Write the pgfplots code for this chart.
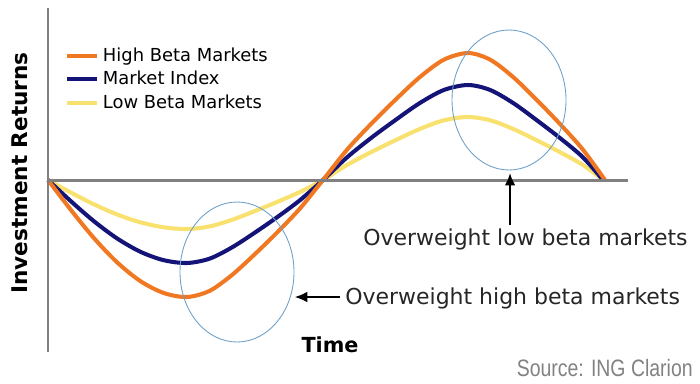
\documentclass[border=0pt]{standalone}
\usepackage{pgfplots}
\pgfplotsset{compat=1.18}
\usepackage{fontspec}
\setmainfont{DejaVu Sans}
\newfontfamily\narrowfont[FakeStretch=0.82]{Liberation Sans}
\usetikzlibrary{arrows.meta}
\definecolor{hiorange}{RGB}{240,120,35}
\definecolor{navyidx}{RGB}{20,20,120}
\definecolor{lowyellow}{RGB}{248,225,110}
\definecolor{ellblue}{RGB}{110,160,200}
\definecolor{axgray}{RGB}{128,128,128}
\definecolor{srcgray}{RGB}{130,130,130}
\begin{document}
\begin{tikzpicture}
\begin{axis}[
  scale only axis,
  width=14cm, height=7.66cm,
  xmin=0, xmax=700, ymin=-203, ymax=180,
  axis lines=none,
  clip=false,
  reverse legend,
  legend style={at={(axis cs:65,136)}, anchor=north west, draw=none, fill=none,
    font=\fontsize{10.2}{11.3}\selectfont, inner sep=0pt, row sep=0pt,
    /tikz/every even column/.append style={column sep=0pt}},
  legend cell align=left,
  legend image code/.code={\draw[#1, line width=2.3pt] (0cm,0cm) -- (0.6cm,0cm);},
]
\addplot[lowyellow, line width=2.3pt, smooth] coordinates {
(48,0) (71.2,-12.7) (94.3,-24.5) (117.5,-34.6) (140.7,-42.4) (163.8,-47.3) (187,-49)
(209.7,-46.4) (232.3,-39.7) (255,-31.0) (277.7,-21.7) (300.3,-11.8) (323,0)
(347.2,15.1) (371.3,28.0) (395.5,39.8) (419.7,51.0) (443.8,59.7) (468,63)
(490.2,59.7) (513.3,51.0) (536.5,39.8) (559.7,28.0) (582.8,15.1) (603,0)};
\addlegendentry{Low Beta Markets}
\addplot[navyidx, line width=2.3pt, smooth] coordinates {
(48,0) (71.2,-21.5) (94.3,-41.5) (117.5,-58.7) (140.7,-71.9) (163.8,-80.2) (187,-83)
(209.7,-78.6) (232.3,-67.2) (255,-52.5) (277.7,-36.8) (300.3,-19.9) (323,0)
(347.2,22.8) (371.3,42.2) (395.5,60.0) (419.7,76.9) (443.8,90.0) (468,95)
(490.2,90.0) (513.3,76.9) (536.5,60.0) (559.7,42.2) (582.8,22.8) (603,0)};
\addlegendentry{Market Index}
\addplot[hiorange, line width=2.3pt, smooth] coordinates {
(48,0) (71.2,-30.3) (94.3,-58.5) (117.5,-82.7) (140.7,-101.3) (163.8,-113.0) (187,-117)
(209.7,-110.8) (232.3,-94.7) (255,-74.0) (277.7,-51.9) (300.3,-28.1) (323,0)
(347.2,30.5) (371.3,56.3) (395.5,80.3) (419.7,102.8) (443.8,120.3) (468,127)
(490.2,120.3) (513.3,102.8) (536.5,80.3) (559.7,56.3) (582.8,30.5) (605,0)};
\addlegendentry{High Beta Markets}
% axis lines
\draw[axgray, line width=1.7pt] (axis cs:48,172) -- (axis cs:48,-172);
\draw[axgray, line width=1.7pt] (axis cs:48,0) -- (axis cs:628,0);
% ellipses
\draw[ellblue, line width=0.5pt] (axis cs:237,-92) ellipse [x radius=1.14cm, y radius=1.4cm];
\draw[ellblue, line width=0.5pt] (axis cs:509,80) ellipse [x radius=1.14cm, y radius=1.4cm];
% arrows
\draw[black, line width=1.1pt, -{Latex[length=7pt,width=6pt]}] (axis cs:510,-45) -- (axis cs:510,7);
\draw[black, line width=0.6pt, -{Latex[length=7pt,width=6pt]}] (axis cs:340,-117) -- (axis cs:295,-117);
% texts
\node[anchor=west, inner sep=0pt, font=\fontsize{12.5}{14}\selectfont, text=black!85] at (axis cs:363,-59) {Overweight low beta markets};
\node[anchor=west, inner sep=0pt, font=\fontsize{12.5}{14}\selectfont, text=black!85] at (axis cs:345,-118) {Overweight high beta markets};
\node[inner sep=0pt, font=\bfseries\fontsize{11.8}{14}\selectfont] at (axis cs:330,-165) {Time};
\node[inner sep=0pt, rotate=90, font=\bfseries\fontsize{12.3}{14}\selectfont] at (axis cs:20,7) {Investment Returns};
\node[anchor=east, inner sep=0pt, text=srcgray, font=\narrowfont\fontsize{13.5}{15}\selectfont] at (axis cs:693,-188) {Source: ING Clarion};
\coordinate (bl) at (rel axis cs:0,0);
\coordinate (tr) at (rel axis cs:1,1);
\end{axis}
\pgfresetboundingbox
\useasboundingbox (bl) rectangle (tr);
\end{tikzpicture}
\end{document}
